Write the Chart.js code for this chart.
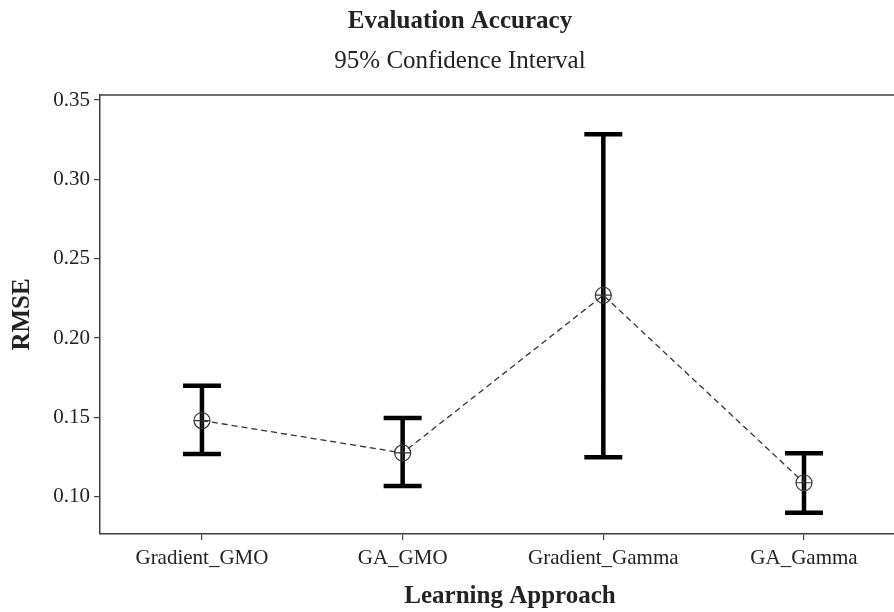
<!DOCTYPE html>
<html>
<head>
<meta charset="utf-8">
<script src="https://cdn.jsdelivr.net/npm/chart.js@4.4.1/dist/chart.umd.min.js"></script>
<style>
html,body{margin:0;padding:0;background:#fff;overflow:hidden;width:894px;height:612px;}
#wrap{width:920px;height:612px;position:relative;}
</style>
</head>
<body>
<div id="wrap"><canvas id="c"></canvas></div>
<script>
const categories = ['Gradient_GMO', 'GA_GMO', 'Gradient_Gamma', 'GA_Gamma'];
const means = [0.148, 0.1276, 0.227, 0.1088];
const lowerCI = [0.1269, 0.1067, 0.1248, 0.0899];
const upperCI = [0.1700, 0.1496, 0.3285, 0.1274];
const yTicks = [0.10, 0.15, 0.20, 0.25, 0.30, 0.35];

const FONT = "'Liberation Serif', 'Times New Roman', serif";
const INK = '#333333';

const stemData = [];
categories.forEach((c, i) => {
  stemData.push({x: i, y: lowerCI[i]});
  stemData.push({x: i, y: upperCI[i]});
  stemData.push({x: i, y: null});
});
const capData = [];
categories.forEach((c, i) => {
  capData.push({x: i, y: lowerCI[i]});
  capData.push({x: i, y: upperCI[i]});
});
const meanData = means.map((v, i) => ({x: i, y: v}));

const topFrame = {
  id: 'topFrame',
  afterDraw(chart) {
    const {ctx, chartArea} = chart;
    ctx.save();
    ctx.strokeStyle = '#404040';
    ctx.lineWidth = 1.5;
    ctx.beginPath();
    ctx.moveTo(chartArea.left, chartArea.top);
    ctx.lineTo(chartArea.right, chartArea.top);
    ctx.stroke();
    ctx.restore();
  }
};

new Chart(document.getElementById('c'), {
  type: 'scatter',
  data: {
    datasets: [
      {
        label: 'mean marker',
        data: meanData,
        showLine: false,
        pointStyle: 'circle',
        pointRadius: 8,
        pointBorderWidth: 1.2,
        pointBorderColor: INK,
        pointBackgroundColor: 'rgba(0,0,0,0)',
        order: 0
      },
      {
        label: 'mean cross',
        data: meanData,
        showLine: false,
        pointStyle: 'cross',
        pointRadius: 8,
        pointBorderWidth: 1.2,
        pointBorderColor: INK,
        order: 0
      },
      {
        label: 'mean line',
        type: 'line',
        data: meanData,
        borderColor: INK,
        borderWidth: 1.3,
        borderDash: [6, 4],
        pointRadius: 0,
        fill: false,
        tension: 0,
        order: 1
      },
      {
        label: 'CI stem',
        type: 'line',
        data: stemData,
        borderColor: '#000',
        borderWidth: 4.5,
        borderCapStyle: 'butt',
        spanGaps: false,
        pointRadius: 0,
        fill: false,
        order: 2
      },
      {
        label: 'CI cap',
        data: capData,
        showLine: false,
        pointStyle: 'line',
        pointRadius: 19,
        pointBorderWidth: 4.5,
        pointBorderColor: '#000',
        order: 2
      }
    ]
  },
  options: {
    responsive: true,
    maintainAspectRatio: false,
    animation: false,
    layout: {padding: 0, autoPadding: false},
    plugins: {
      legend: {display: false},
      tooltip: {enabled: false},
      title: {
        display: true,
        text: 'Evaluation Accuracy',
        color: '#222',
        font: {family: FONT, size: 25, weight: 'bold', lineHeight: 1.2},
        padding: {top: 7, bottom: 0}
      },
      subtitle: {
        display: true,
        text: '95% Confidence Interval',
        color: '#222',
        font: {family: FONT, size: 25, weight: 'normal', lineHeight: 1.2},
        padding: {top: 9, bottom: 19}
      }
    },
    scales: {
      x: {
        type: 'linear',
        min: -0.508,
        max: 3.578,
        afterFit(scale) {
          scale.height = 78;
          scale.paddingLeft = 0;
          scale.paddingRight = 0;
        },
        afterBuildTicks(scale) { scale.ticks = categories.map((c, i) => ({value: i})); },
        ticks: {
          color: '#222',
          font: {family: FONT, size: 21},
          padding: 6,
          maxRotation: 0,
          autoSkip: false,
          callback: (v) => categories[v]
        },
        grid: {display: true, drawOnChartArea: false, drawTicks: true, tickLength: 6, color: '#404040', lineWidth: 1.2},
        border: {display: true, color: '#404040', width: 1.5},
        title: {
          display: true,
          text: 'Learning Approach',
          color: '#222',
          font: {family: FONT, size: 25, weight: 'bold', lineHeight: 1.2},
          padding: {top: 0, bottom: 0}
        }
      },
      y: {
        type: 'linear',
        min: 0.0765,
        max: 0.3532,
        afterFit(scale) { scale.width = 100; },
        afterBuildTicks(scale) { scale.ticks = yTicks.map(v => ({value: v})); },
        ticks: {
          color: '#222',
          font: {family: FONT, size: 21},
          padding: 4,
          callback: (v) => Number(v).toFixed(2)
        },
        grid: {display: true, drawOnChartArea: false, drawTicks: true, tickLength: 6, color: '#404040', lineWidth: 1.2},
        border: {display: true, color: '#404040', width: 1.5},
        title: {
          display: true,
          text: 'RMSE',
          color: '#222',
          font: {family: FONT, size: 25, weight: 'bold', lineHeight: 1.2},
          padding: {top: 8, bottom: 0}
        }
      }
    }
  },
  plugins: [topFrame]
});
</script>
</body>
</html>
